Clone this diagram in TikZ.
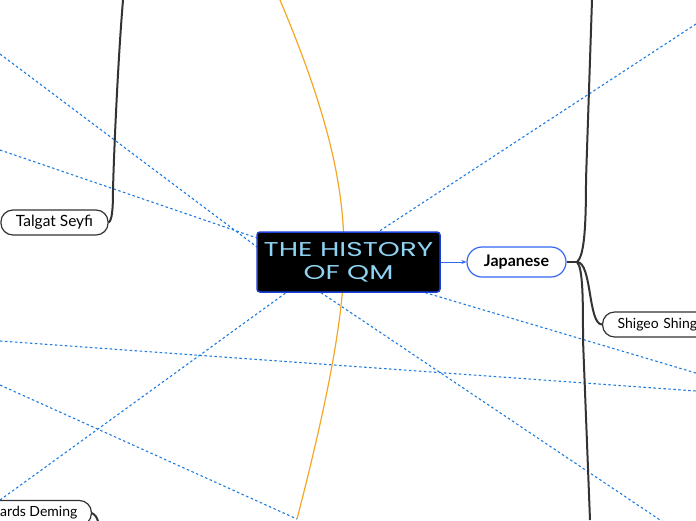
\documentclass[tikz,border=0pt]{standalone}
\usepackage{fontspec}
\setmainfont{Lato}
\newfontfamily\titlefont[FakeStretch=1.4]{Poppins}
\usetikzlibrary{arrows.meta}

\definecolor{linkblue}{HTML}{1E7BE0}
\definecolor{boxblue}{HTML}{1A3FD8}
\definecolor{pillblue}{HTML}{3366F5}
\definecolor{titleblue}{HTML}{8FD3F2}
\definecolor{branchgray}{HTML}{333333}
\definecolor{linkorange}{HTML}{F5A623}

\begin{document}
\begin{tikzpicture}[x=1pt, y=-1pt]
	\tikzstyle{topic}    = [rectangle, rounded corners=3pt, fill=black, draw=boxblue, line width=1.5pt, minimum width=183pt, minimum height=60pt, inner sep=0pt, align=center, text=titleblue, font=\titlefont\fontsize{20}{24}\selectfont]
	\tikzstyle{subtopic} = [rectangle, rounded corners=12pt, draw=branchgray, line width=1.2pt, fill=white, minimum height=25pt, inner xsep=15pt, inner ysep=0pt, font=\fontsize{15.5}{17}\selectfont]
	\tikzstyle{mainpill} = [rectangle, rounded corners=15pt, draw=pillblue, line width=1.2pt, fill=white, minimum width=99pt, minimum height=30pt, inner sep=0pt, font=\bfseries\fontsize{16}{18}\selectfont]
	\tikzstyle{relation} = [linkblue, line width=1.1pt, dash pattern=on 2.5pt off 2.5pt]
	\tikzstyle{branchline} = [branchgray, line width=2pt]

	\useasboundingbox (0,0) rectangle (696,520);

%	far ends of the links, outside the page
	\foreach \name/\x/\y in {la/0/54, lb/0/150, lc/696/24, ld/696/373, le/0/341, lf/0/385, lg/0/500, lh/672/528, le2/696/391, ob/297/519, ot/280/0, tparent/123/0, jtop/592/0, jbottom/590/520, dbottom/98/521, jhub/577/262}
		\coordinate (\name) at (\x, \y);

%	where the links meet the central box
	\foreach \name/\x/\y in {qa/257/247, qb/257/238, qc/378/232, qd/423/292, qg/287/292, qh/320/292}
		\coordinate (\name) at (\x, \y);

	\foreach \from/\to in {la/qa, lb/qb, lc/qc, ld/qd, lg/qg, lh/qh, le/le2, lf/ob}
		\draw[relation] (\from) -- (\to);

	\draw[linkorange, line width=1.2pt] (ot) .. controls (335,130) and (345,200) .. (344,262) .. controls (343,330) and (320,430) .. (ob);

	\node[topic] (qm) at (348.5, 262) {THE HISTORY\\[-1pt]OF QM};
	\node[mainpill] (japanese) at (516.5, 262) {Japanese};
	\node[subtopic, minimum width=105pt] (talgat) at (54.5, 222.5) {Talgat Seyfi};
	\node[subtopic, anchor=west, minimum width=125pt, text width=95pt, font=\fontsize{14}{17}\selectfont] (shigeo) at (602, 324.5) {Shigeo Shing};
	\node[subtopic, anchor=east, inner xsep=14pt, font=\fontsize{14}{17}\selectfont] (deming) at (92, 513) {ards Deming};

	\draw[pillblue, line width=1pt, -{Stealth[length=5pt, width=4pt]}] (qm) -- (japanese);

	\draw[branchline] (talgat.east) .. controls (112,220) and (113,210) .. (113,190) .. controls (114,150) and (118,60) .. (tparent);
	\draw[branchline] (japanese.east) -- (jhub);
	\draw[branchline] (jhub) .. controls (584,256) and (586,230) .. (586,180) -- (jtop);
	\draw[branchline] (jhub) .. controls (583,268) and (583,300) .. (583,340) -- (jbottom);
	\draw[branchline] (jhub) .. controls (592,262) and (588,324.5) .. (shigeo.west);
	\draw[branchline] (deming.east) .. controls (96,516) .. (dbottom);
\end{tikzpicture}
\end{document}
